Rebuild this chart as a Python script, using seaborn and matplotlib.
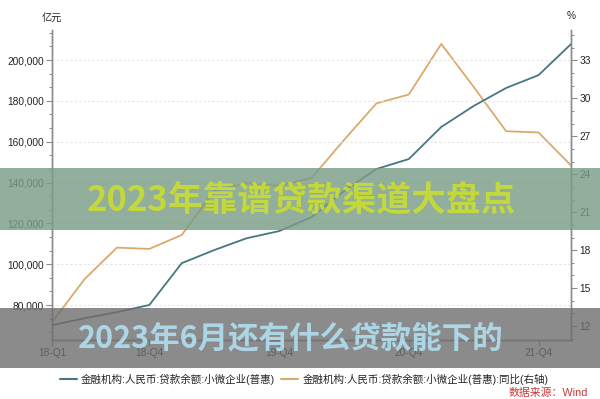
import numpy as np
import pandas as pd
import matplotlib
matplotlib.use("Agg")
import matplotlib.pyplot as plt
import matplotlib.ticker as mticker
from matplotlib.patches import Rectangle
from matplotlib.lines import Line2D
import seaborn as sns

# ---------------- data ----------------
quarters = ['18-Q1', '18-Q2', '18-Q3', '18-Q4', '19-Q1', '19-Q2', '19-Q3', '19-Q4',
            '20-Q1', '20-Q2', '20-Q3', '20-Q4', '21-Q1', '21-Q2', '21-Q3', '21-Q4', '22-Q1']
balance = [70100, 73500, 76500, 80000, 100500, 106900, 112700, 116200,
           123000, 135800, 146600, 151500, 167200, 177500, 186300, 192600, 207800]
yoy = [12.3, 15.7, 18.2, 18.1, 19.2, 22.7, 23.3, 23.1,
       23.7, 26.7, 29.6, 30.3, 34.3, 30.9, 27.4, 27.3, 24.7]
shown_ticks = ['18-Q1', '18-Q4', '19-Q4', '20-Q4', '21-Q4']
name_balance = '金融机构:人民币:贷款余额:小微企业(普惠)'
name_yoy = '金融机构:人民币:贷款余额:小微企业(普惠):同比(右轴)'
title1 = '2023年靠谱贷款渠道大盘点'
title2 = '2023年6月还有什么贷款能下的'
source = '数据来源：Wind'

df = pd.DataFrame({'q': quarters, 'idx': range(len(quarters)),
                   'balance': balance, 'yoy': yoy})

sns.set_theme(style='white')
plt.rcParams['font.family'] = ['Liberation Sans', 'Noto Sans CJK SC', 'DejaVu Sans']
plt.rcParams['axes.unicode_minus'] = False

teal = '#467680'
orange = '#d9aa6c'
spine_c = '#8c8c8c'

fig = plt.figure(figsize=(6.0, 3.99), dpi=100)
ax = fig.add_axes([52/600, 1-340/399, (571-52)/600, (340-30)/399])
ax2 = ax.twinx()

sns.lineplot(data=df, x='idx', y='balance', ax=ax, color=teal, linewidth=1.3, zorder=3)
sns.lineplot(data=df, x='idx', y='yoy', ax=ax2, color=orange, linewidth=1.3, zorder=2)

ax.set_xlim(0, 16)
ax.set_ylim(62860, 214700)
ax2.set_ylim(10.9, 35.4)

ax.set_xticks([quarters.index(t) for t in shown_ticks])
ax.set_xticklabels(shown_ticks)
ax.yaxis.set_major_locator(mticker.MultipleLocator(20000))
ax.yaxis.set_minor_locator(mticker.MultipleLocator(20000/3))
ax.yaxis.set_major_formatter(mticker.FuncFormatter(lambda v, p: f'{v:,.0f}'))
ax2.yaxis.set_major_locator(mticker.MultipleLocator(3))
ax2.yaxis.set_minor_locator(mticker.MultipleLocator(1))

for a in (ax, ax2):
    a.set_xlabel('')
    a.set_ylabel('')
    a.spines['top'].set_visible(False)
    for s in ('left', 'right', 'bottom'):
        a.spines[s].set_color(spine_c)
        a.spines[s].set_linewidth(1.0)
    a.tick_params(axis='both', which='major', length=4, width=0.8, color=spine_c,
                  labelsize=7.3, labelcolor='#222222', pad=2)
    a.tick_params(axis='y', which='minor', length=2.5, width=0.7, color=spine_c)
ax.tick_params(axis='y', which='both', left=True, right=False)
ax2.tick_params(axis='y', which='both', right=True, left=False)
ax.tick_params(axis='x', bottom=True)

ax.yaxis.grid(True, which='major', color='#e4e4e4', linestyle=(0, (2, 2)), linewidth=0.8)
ax.set_axisbelow(True)
ax.set_zorder(ax2.get_zorder() + 1)
ax.patch.set_visible(False)

fig.text(52/600, 1-18/399, '亿元', ha='center', va='center', fontsize=7.3, color='#222222')
fig.text(571/600, 1-16/399, '%', ha='center', va='center', fontsize=7.3, color='#222222')

handles = [Line2D([], [], color=teal, linewidth=1.5),
           Line2D([], [], color=orange, linewidth=1.5)]
fig.legend(handles, [name_balance, name_yoy], loc='center', ncol=2,
           bbox_to_anchor=(304/600, 1-379/399), frameon=False, fontsize=7.6,
           handlelength=1.6, handletextpad=0.4, columnspacing=0.6)
fig.text(588/600, 1-393/399, source, ha='right', va='center', fontsize=7.8, color='#c8373a')

# overlay banners
fig.add_artist(Rectangle((0, 1-230/399), 1, (230-168)/399, transform=fig.transFigure,
                         facecolor='#7a9c86', alpha=0.82, edgecolor='none', zorder=10))
fig.add_artist(Rectangle((0, 1-368/399), 1, (368-308)/399, transform=fig.transFigure,
                         facecolor='#6e6e6e', alpha=0.8, edgecolor='none', zorder=10))
fig.text(301/600, 1-201/399, title1, ha='center', va='center', fontsize=25,
         fontweight='bold', color='#c3d83c', family=['Noto Sans CJK SC'], zorder=11)
fig.text(291/600, 1-338/399, title2, ha='center', va='center', fontsize=22,
         fontweight='bold', color='#acd6e6', family=['Noto Sans CJK SC'], zorder=11)

fig.savefig('out.png', dpi=100)
